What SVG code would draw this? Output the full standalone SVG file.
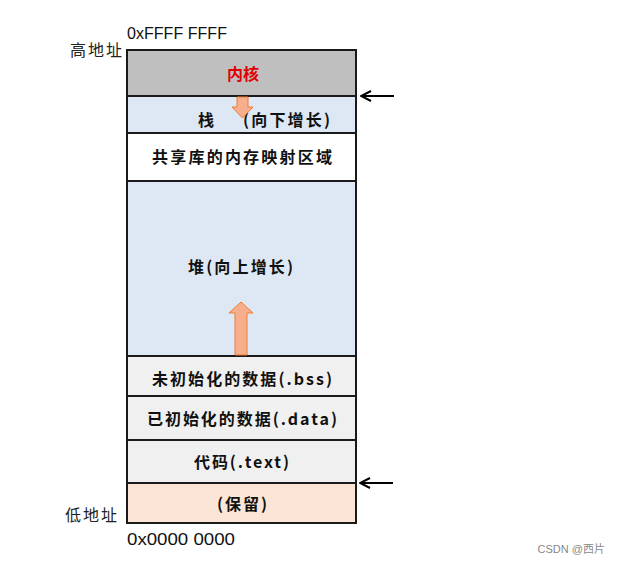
<svg xmlns="http://www.w3.org/2000/svg" width="622" height="565" viewBox="0 0 622 565">
<style>
.seg{stroke:#1a1a1a;stroke-width:2}
.lbl{font-family:"Noto Sans CJK SC",sans-serif;font-weight:bold;font-size:16px;fill:#111}
.addr{font-family:"Liberation Sans",sans-serif;font-size:17px;fill:#111}
.side{font-family:"Noto Sans CJK SC",serif;font-size:16px;fill:#222}
.big{fill:#f7ae8c;stroke:#ed7d31;stroke-width:1}
.ptr{stroke:#000;stroke-width:2;fill:none}
</style>
<defs>
<marker id="ah" viewBox="0 0 12 12" refX="11" refY="6" markerWidth="12" markerHeight="12" markerUnits="userSpaceOnUse" orient="auto">
<path d="M1,1 L11,6 L1,11" fill="none" stroke="#000" stroke-width="2"/>
</marker>
</defs>
<rect width="622" height="565" fill="#fff"/>
<g id="kernel"><rect class="seg" x="127" y="50" width="229" height="46" fill="#bfbfbf"/><text x="243" y="80" text-anchor="middle" class="lbl" style="fill:#e00000">内核</text></g>
<g id="stack"><rect class="seg" x="127" y="96" width="229" height="37" fill="#dee8f4"/><text x="198" y="126" class="lbl">栈</text><text x="243" y="126" class="lbl" textLength="87" lengthAdjust="spacing">(向下增长)</text></g>
<g id="shared"><rect class="seg" x="127" y="133" width="229" height="48" fill="#ffffff"/><text x="152" y="163" class="lbl" textLength="180" lengthAdjust="spacing">共享库的内存映射区域</text></g>
<g id="heap"><rect class="seg" x="127" y="181" width="229" height="175" fill="#dee8f4"/><text x="188" y="273" class="lbl" textLength="105" lengthAdjust="spacing">堆(向上增长)</text></g>
<g id="bss"><rect class="seg" x="127" y="356" width="229" height="40" fill="#f0f0f0"/><text x="152" y="385" class="lbl" textLength="180" lengthAdjust="spacing">未初始化的数据(.bss)</text></g>
<g id="data"><rect class="seg" x="127" y="396" width="229" height="44" fill="#f0f0f0"/><text x="147" y="425" class="lbl" textLength="190" lengthAdjust="spacing">已初始化的数据(.data)</text></g>
<g id="text"><rect class="seg" x="127" y="440" width="229" height="43" fill="#f0f0f0"/><text x="194" y="468" class="lbl" textLength="95" lengthAdjust="spacing">代码(.text)</text></g>
<g id="reserved"><rect class="seg" x="127" y="483" width="229" height="40" fill="#fbe5d6"/><text x="217" y="510" class="lbl" textLength="50" lengthAdjust="spacing">(保留)</text></g>
<g id="labels">
<text x="127" y="39" class="addr" textLength="100" lengthAdjust="spacingAndGlyphs">0xFFFF FFFF</text>
<text x="127" y="545" class="addr" textLength="108" lengthAdjust="spacingAndGlyphs">0x0000 0000</text>
<text x="70" y="56" class="side" textLength="52" lengthAdjust="spacing">高地址</text>
<text x="65" y="521" class="side" textLength="52" lengthAdjust="spacing">低地址</text>
<text x="605" y="553" text-anchor="end" font-family="'Liberation Sans','Noto Sans CJK SC',sans-serif" font-size="11" fill="#888">CSDN @西片</text>
</g>
<g id="connectors">
<path class="big" d="M237,97 L248,97 L248,107 L253,107 L242.5,118 L232,107 L237,107 Z"/>
<path class="big" d="M235,355 L247,355 L247,313 L253,313 L241,302 L229,313 L235,313 Z"/>
<line class="ptr" x1="394" y1="96" x2="361" y2="96" marker-end="url(#ah)"/>
<line class="ptr" x1="393" y1="483" x2="360" y2="483" marker-end="url(#ah)"/>
</g>
</svg>
